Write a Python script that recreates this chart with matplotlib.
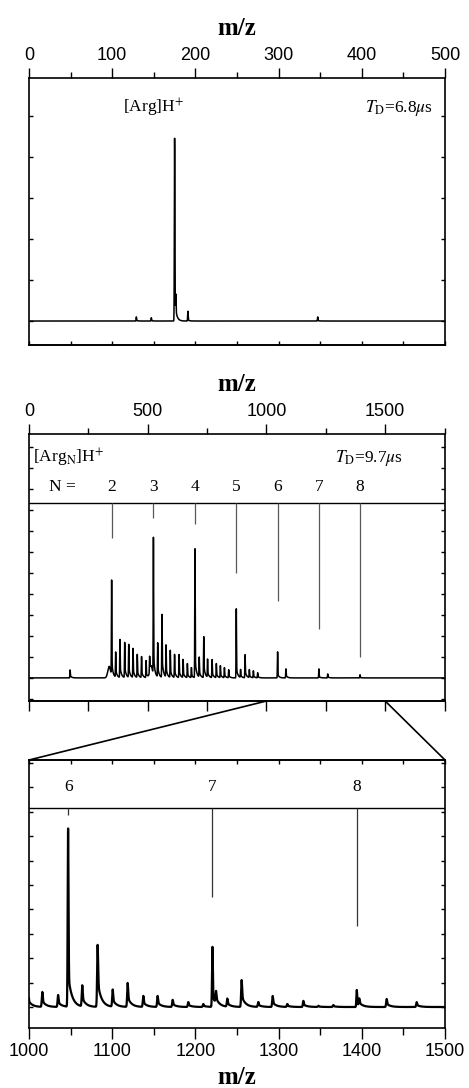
import numpy as np
import matplotlib
matplotlib.use('Agg')
import matplotlib.pyplot as plt
from matplotlib.patches import ConnectionPatch
from matplotlib.ticker import MultipleLocator

plt.rcParams['font.family'] = 'Liberation Serif'
plt.rcParams['mathtext.fontset'] = 'stix'
plt.rcParams['axes.linewidth'] = 1.2

# --- panel 1 : monomer, T_D = 6.8 us ---
mono_mz = [129, 147, 175, 176.5, 191, 347]
mono_int = [0.10, 0.08, 4.46, 0.45, 0.24, 0.10]

# --- panel 2 : clusters, T_D = 9.7 us ---
clus_n = [2, 3, 4, 5, 6, 7, 8]
clus_mz = [348, 524, 699, 873, 1047, 1221, 1394]
clus_int = [4.52, 6.52, 6.14, 3.29, 1.24, 0.43, 0.15]
clus_mark = [6.67, 7.62, 7.33, 5.0, 3.67, 2.33, 1.0]   # lower end of N marker lines
frag_mz = [173, 365, 383, 403, 420, 438, 456, 474, 493, 508,
           542, 560, 577, 595, 613, 632, 649, 667, 684,
           717, 736, 752, 771, 789, 806, 823, 841,
           891, 910, 928, 945, 963, 1082, 1258]
frag_int = [0.38, 1.19, 1.81, 1.67, 1.57, 1.38, 1.10, 1.00, 0.81, 0.76,
            1.62, 3.00, 1.52, 1.29, 1.10, 1.10, 0.86, 0.67, 0.48,
            0.95, 1.95, 0.86, 0.86, 0.67, 0.57, 0.48, 0.38,
            0.38, 1.10, 0.38, 0.33, 0.24, 0.43, 0.19]
hump_mz = [338, 515]
hump_int = [0.55, 0.5]

# --- panel 3 : zoom 1000-1500 ---
zoom_n = [6, 7, 8]
zoom_mz = [1047, 1220.5, 1394]
zoom_int = [7.3, 2.46, 0.70]
zoom_mark = [7.87, 4.51, 3.32]
zfrag_mz = [999, 1016, 1035, 1064, 1082.5, 1100.6, 1118.6, 1137.4, 1154.6,
            1172.7, 1191.5, 1209.5, 1224.8, 1238.4, 1255.6, 1275.6, 1292.9,
            1310.5, 1329.8, 1347.8, 1365.8, 1397, 1429.9, 1466]
zfrag_int = [0.70, 0.61, 0.49, 0.86, 2.54, 0.70, 0.98, 0.45, 0.45,
             0.29, 0.20, 0.12, 0.49, 0.33, 1.10, 0.20, 0.45,
             0.12, 0.25, 0.05, 0.08, 0.29, 0.33, 0.20]


def trace(x, centres, heights, sig, tau, share):
    y = np.zeros_like(x)
    for c, h in zip(centres, heights):
        d = x - c
        g = np.exp(-0.5 * (d / sig) ** 2)
        t = np.where(d >= 0, np.exp(-np.clip(d, 0, None) / tau), g)
        y += h * ((1 - share) * g + share * t)
    return y


def yticks(ax):
    ax.yaxis.set_major_locator(MultipleLocator(1))
    ax.tick_params(axis='y', direction='in', length=3, width=1,
                   left=True, right=True, labelleft=False)


def mz_label(ax, where):
    ax.set_xlabel('m/z', fontsize=18, fontweight='bold', labelpad=9)
    ax.xaxis.set_label_position(where)


FS = 12.5   # annotation size
fig = plt.figure(figsize=(4.69, 10.88), dpi=100)
L, W = 29 / 469, 416 / 469
ax1 = fig.add_axes([L, 1 - 345 / 1088, W, 267 / 1088])
ax2 = fig.add_axes([L, 1 - 701 / 1088, W, 267 / 1088])
ax3 = fig.add_axes([L, 1 - 1028 / 1088, W, 268 / 1088])

# top panel
x = np.arange(0, 500, 0.1)
ax1.plot(x, trace(x, mono_mz, mono_int, 0.3, 2.0, 0.1), color='k', lw=1.1)
ax1.set_xlim(0, 500)
ax1.set_ylim(-0.585, 5.93)
ax1.xaxis.tick_top()
mz_label(ax1, 'top')
ax1.xaxis.set_major_locator(MultipleLocator(100))
ax1.xaxis.set_minor_locator(MultipleLocator(50))
ax1.tick_params(axis='x', which='major', direction='out', length=7, width=1,
                labelsize=13, pad=3, labelfontfamily='Liberation Sans')
ax1.tick_params(axis='x', which='minor', direction='out', length=4, width=1)
sec = ax1.secondary_xaxis('bottom')
sec.xaxis.set_major_locator(MultipleLocator(50))
sec.tick_params(direction='in', length=3, width=1, labelbottom=False)
yticks(ax1)
ax1.text(150, 5.2, '[Arg]H$^{+}$', ha='center', va='center', fontsize=FS)
ax1.text(404, 5.2, r'$T_{\mathrm{D}}$=6.8$\mu$s', ha='left', va='center', fontsize=FS)

# middle panel
x = np.arange(0, 1752, 0.2)
y = trace(x, clus_mz, clus_int, 0.9, 6.0, 0.15)
y += trace(x, frag_mz, frag_int, 0.9, 6.0, 0.3)
y += trace(x, hump_mz, hump_int, 6.0, 8.0, 0.3)
ax2.plot(x, y, color='k', lw=1.1)
ax2.set_xlim(0, 1752)
ax2.set_ylim(-1.1, 11.62)
ax2.xaxis.tick_top()
mz_label(ax2, 'top')
ax2.xaxis.set_major_locator(MultipleLocator(500))
ax2.xaxis.set_minor_locator(MultipleLocator(250))
ax2.tick_params(axis='x', which='major', direction='out', length=7, width=1,
                labelsize=13, pad=3, labelfontfamily='Liberation Sans')
ax2.tick_params(axis='x', which='minor', direction='out', length=4, width=1)
sec = ax2.secondary_xaxis('bottom')
sec.xaxis.set_major_locator(MultipleLocator(250))
sec.tick_params(direction='out', length=7, width=1, labelbottom=False)
yticks(ax2)
ax2.axhline(8.33, color='k', lw=1.0)
ax2.vlines(clus_mz, clus_mark, 8.33, colors='0.35', lw=0.9)
for n, m in zip(clus_n, clus_mz):
    ax2.text(m, 9.1, str(n), ha='center', va='center', fontsize=FS)
ax2.text(139, 9.1, 'N =', ha='center', va='center', fontsize=FS)
ax2.text(15, 10.5, '[Arg$_{\\mathrm{N}}$]H$^{+}$', ha='left', va='center', fontsize=FS)
ax2.text(1290, 10.5, r'$T_{\mathrm{D}}$=9.7$\mu$s', ha='left', va='center', fontsize=FS)

# bottom panel
x = np.arange(990, 1500, 0.1)
y = trace(x, zoom_mz, zoom_int, 0.5, 4.5, 0.18)
y += trace(x, zfrag_mz, zfrag_int, 0.6, 4.5, 0.4)
ax3.plot(x, y, color='k', lw=1.6)
ax3.set_xlim(1000, 1500)
ax3.set_ylim(-0.86, 10.12)
mz_label(ax3, 'bottom')
ax3.xaxis.labelpad = 4
ax3.xaxis.set_major_locator(MultipleLocator(100))
ax3.xaxis.set_minor_locator(MultipleLocator(50))
ax3.tick_params(axis='x', which='major', direction='out', length=8, width=1,
                labelsize=13, pad=3, labelfontfamily='Liberation Sans')
ax3.tick_params(axis='x', which='minor', direction='out', length=5, width=1)
sec = ax3.secondary_xaxis('top')
sec.xaxis.set_major_locator(MultipleLocator(50))
sec.tick_params(direction='in', length=3, width=1, labeltop=False)
yticks(ax3)
ax3.axhline(8.16, color='k', lw=1.0)
ax3.vlines(zoom_mz, zoom_mark, 8.16, colors='0.2', lw=0.9)
for n, m in zip(zoom_n, zoom_mz):
    ax3.text(m, 9.02, str(n), ha='center', va='center', fontsize=FS)

# zoom lines between middle and bottom panel
for xm in (1000, 1500):
    con = ConnectionPatch(xyA=(xm, -1.1), coordsA=ax2.transData,
                          xyB=(xm, 10.12), coordsB=ax3.transData,
                          color='k', lw=1.2)
    fig.add_artist(con)

fig.savefig('out.png', dpi=100)
